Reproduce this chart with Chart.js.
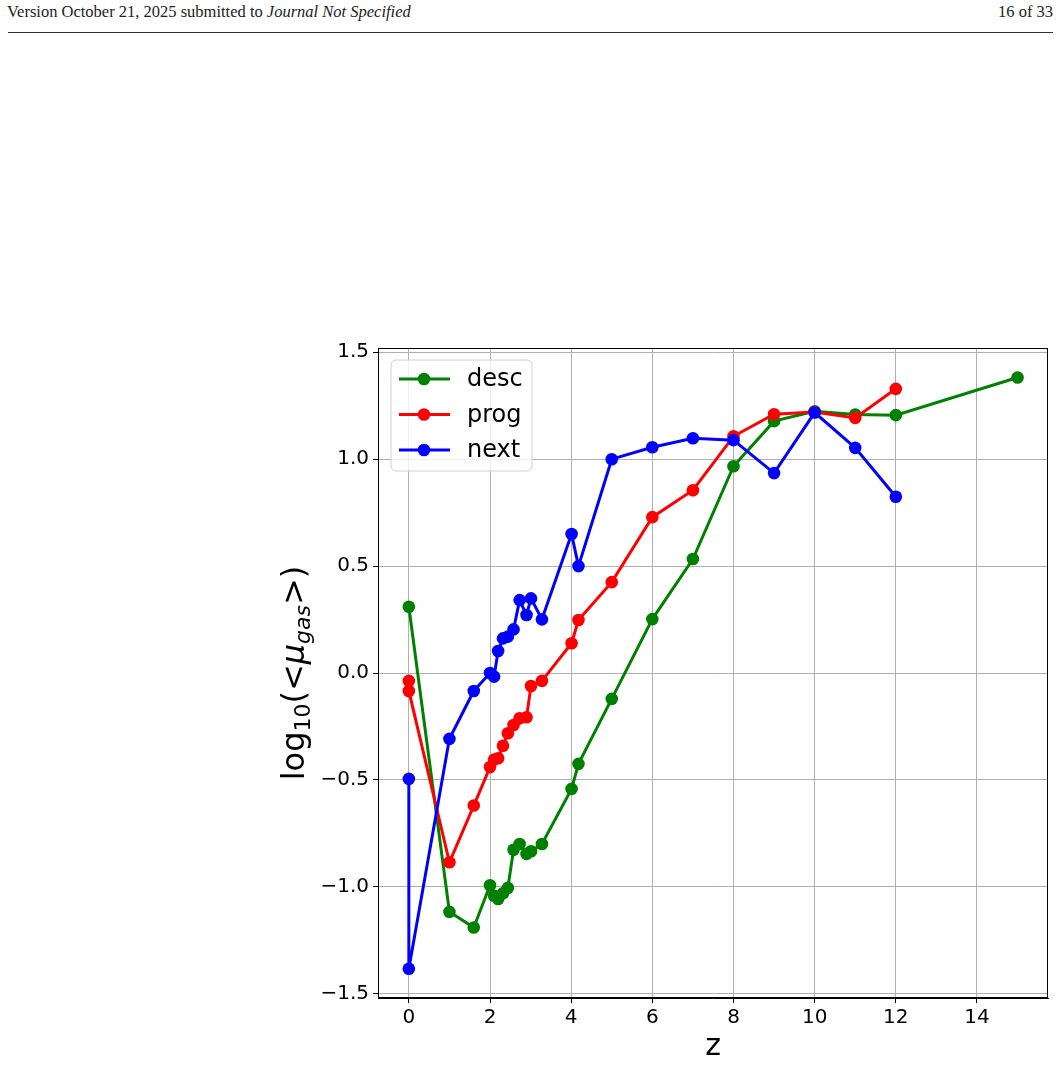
<!DOCTYPE html>
<html>
<head>
<meta charset="utf-8">
<script src="https://cdn.jsdelivr.net/npm/chart.js@4.4.1/dist/chart.umd.min.js"></script>
<style>
  html, body { margin: 0; padding: 0; background: #fff; }
  body { width: 1061px; height: 1065px; position: relative; overflow: hidden; }
  .hdr { position: absolute; top: 2px; font: 16.5px "Liberation Serif", serif; color: #222; }
  .hdr.left { left: 7px; }
  .hdr.right { right: 8px; }
  .rule { position: absolute; left: 8px; right: 8px; top: 32px; height: 0; border-top: 1.5px solid #333; }
  #wrap { position: absolute; left: 0; top: 0; width: 1061px; height: 1065px; }
</style>
</head>
<body>
<div class="hdr left">Version October 21, 2025 submitted to <i>Journal Not Specified</i></div>
<div class="hdr right">16 of 33</div>
<div class="rule"></div>
<div id="wrap"><canvas id="chart"></canvas></div>
<script>
// --- datos ---
const zDesc = [0, 1, 1.6, 2.0, 2.1, 2.2, 2.32, 2.44, 2.58, 2.73, 2.9, 3.01, 3.28, 4.01, 4.18, 5, 6, 7, 8, 9, 10, 11, 12, 15];
const logDesc = [0.31, -1.117, -1.19, -0.993, -1.042, -1.057, -1.03, -1.005, -0.827, -0.8, -0.846, -0.834, -0.8, -0.542, -0.425, -0.121, 0.252, 0.533, 0.967, 1.178, 1.224, 1.209, 1.206, 1.382];

const zProg = [0, 0, 1, 1.6, 2.0, 2.1, 2.2, 2.32, 2.44, 2.58, 2.73, 2.9, 3.01, 3.28, 4.01, 4.18, 5, 6, 7, 8, 9, 10, 11, 12];
const logProg = [-0.037, -0.084, -0.885, -0.62, -0.44, -0.405, -0.399, -0.34, -0.282, -0.243, -0.212, -0.207, -0.061, -0.037, 0.139, 0.248, 0.425, 0.729, 0.855, 1.107, 1.21, 1.221, 1.193, 1.329];

const zNext = [0, 0, 1, 1.6, 2.0, 2.1, 2.2, 2.32, 2.44, 2.58, 2.73, 2.9, 3.01, 3.28, 4.01, 4.18, 5, 6, 7, 8, 9, 10, 11, 12];
const logNext = [-0.495, -1.383, -0.308, -0.084, 0.0, -0.017, 0.103, 0.162, 0.17, 0.204, 0.341, 0.271, 0.349, 0.251, 0.65, 0.5, 1.0, 1.056, 1.098, 1.089, 0.935, 1.218, 1.053, 0.824];

const seriesNames = ['desc', 'prog', 'next'];
const seriesColors = ['#008000', '#ff0000', '#0000ff'];
const xTicks = [0, 2, 4, 6, 8, 10, 12, 14];
const yTicks = [-1.5, -1.0, -0.5, 0.0, 0.5, 1.0, 1.5];

const FONT = '"DejaVu Sans", sans-serif';

const toPoints = (xs, ys) => xs.map((x, i) => ({ x: x, y: ys[i] }));

const makeSet = (idx, xs, ys) => ({
    label: seriesNames[idx],
    data: toPoints(xs, ys),
    borderColor: seriesColors[idx],
    backgroundColor: seriesColors[idx],
    pointBackgroundColor: seriesColors[idx],
    pointBorderWidth: 0,
    pointRadius: 6.3,
    borderWidth: 3,
    showLine: true,
    tension: 0,
    order: 3 - idx
});

// marco completo y leyenda tipo matplotlib
const framePlugin = {
    id: 'frame',
    afterDraw: (chart) => {
        const { ctx, chartArea: a } = chart;
        ctx.save();
        ctx.strokeStyle = '#000';
        ctx.lineWidth = 1;
        ctx.strokeRect(a.left + 0.5, a.top + 0.5, a.right - a.left - 1, a.bottom - a.top - 1);

        // leyenda
        const bx = 391, by = 360, bw = 141, bh = 111, r = 5;
        ctx.beginPath();
        ctx.roundRect(bx, by, bw, bh, r);
        ctx.fillStyle = 'rgba(255,255,255,0.8)';
        ctx.fill();
        ctx.strokeStyle = '#d0d0d0';
        ctx.lineWidth = 1;
        ctx.stroke();
        const rows = [379, 414.5, 450];
        seriesNames.forEach((name, i) => {
            const yy = rows[i];
            ctx.strokeStyle = seriesColors[i];
            ctx.lineWidth = 3;
            ctx.beginPath();
            ctx.moveTo(399, yy);
            ctx.lineTo(450, yy);
            ctx.stroke();
            ctx.fillStyle = seriesColors[i];
            ctx.beginPath();
            ctx.arc(424, yy, 6.3, 0, Math.PI * 2);
            ctx.fill();
            ctx.fillStyle = '#000';
            ctx.font = '24px ' + FONT;
            ctx.textBaseline = 'middle';
            ctx.textAlign = 'left';
            ctx.fillText(name, 467, yy + 1);
        });

        // etiqueta del eje y: log10(<μgas>)
        const big = '32px ' + FONT, small = '22px ' + FONT;
        const bigI = 'italic 32px ' + FONT, smallI = 'italic 22px ' + FONT;
        const parts = [
            ['log', big, 0], ['10', small, 6], ['(<', big, 0],
            ['\u03bc', bigI, 0], ['gas', smallI, 6], ['>)', big, 0]
        ];
        let total = 0;
        parts.forEach(p => { ctx.font = p[1]; total += ctx.measureText(p[0]).width; });
        ctx.translate(304, (a.top + a.bottom) / 2);
        ctx.rotate(-Math.PI / 2);
        ctx.textBaseline = 'alphabetic';
        ctx.textAlign = 'left';
        ctx.fillStyle = '#000';
        let cx = -total / 2;
        parts.forEach(p => {
            ctx.font = p[1];
            ctx.fillText(p[0], cx, p[2]);
            cx += ctx.measureText(p[0]).width;
        });
        ctx.restore();
    }
};

const fmtY = (v) => (v < 0 ? '\u2212' : '') + Math.abs(v).toFixed(1);

new Chart(document.getElementById('chart'), {
    type: 'scatter',
    data: {
        datasets: [
            makeSet(0, zDesc, logDesc),
            makeSet(1, zProg, logProg),
            makeSet(2, zNext, logNext)
        ]
    },
    options: {
        responsive: true,
        maintainAspectRatio: false,
        animation: false,
        layout: { padding: { left: 0, top: 348, right: 13, bottom: 0 } },
        plugins: { legend: { display: false }, tooltip: { enabled: false } },
        scales: {
            x: {
                type: 'linear',
                min: -0.76,
                max: 15.75,
                afterFit: (s) => { s.height = 67; },
                afterBuildTicks: (s) => { s.ticks = xTicks.map(v => ({ value: v })); },
                grid: { color: '#b0b0b0', lineWidth: 1, tickLength: 5, tickColor: '#000' },
                border: { display: true, color: '#000', width: 1 },
                ticks: { color: '#000', font: { family: FONT, size: 20 }, padding: 3, maxRotation: 0 },
                title: { display: true, text: 'z', color: '#000', font: { family: FONT, size: 30 }, padding: { top: 0, bottom: 0 } }
            },
            y: {
                type: 'linear',
                min: -1.52,
                max: 1.52,
                afterFit: (s) => { s.width = 378; },
                afterBuildTicks: (s) => { s.ticks = yTicks.map(v => ({ value: v })); },
                grid: { color: '#b0b0b0', lineWidth: 1, tickLength: 5, tickColor: '#000' },
                border: { display: true, color: '#000', width: 1 },
                ticks: { color: '#000', font: { family: FONT, size: 20 }, padding: 4, callback: fmtY }
            }
        }
    },
    plugins: [framePlugin]
});
</script>
</body>
</html>
